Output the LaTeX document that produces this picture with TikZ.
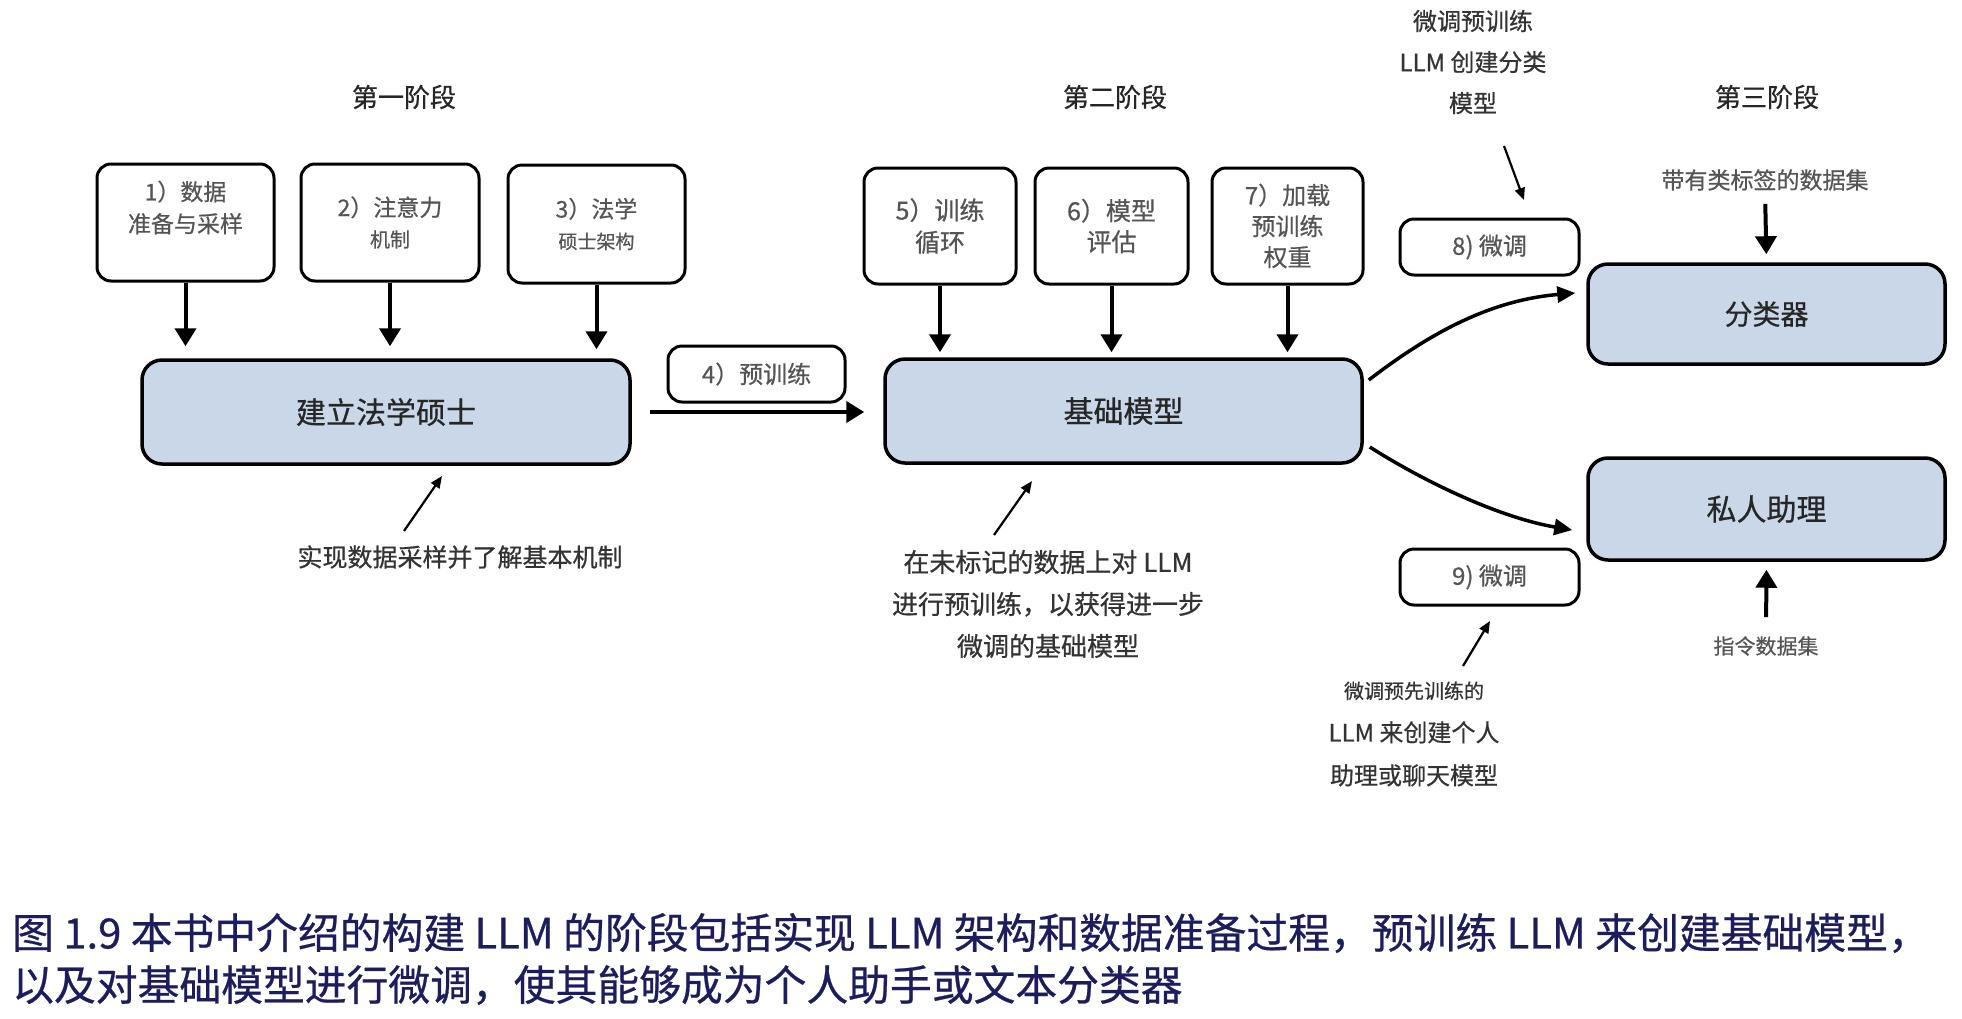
\documentclass[tikz,border=0pt]{standalone}
\usepackage{fontspec}
\setmainfont{Noto Sans CJK SC}[FakeBold=0.6]
\usepackage{tikz}
\usetikzlibrary{arrows.meta}
\definecolor{mainblue}{HTML}{C9D7E9}
\definecolor{boxtext}{HTML}{555555}
\definecolor{darktext}{HTML}{262626}
\definecolor{notetext}{HTML}{333333}
\definecolor{captionblue}{HTML}{1D1D5E}
\newcommand{\fsz}[2]{\fontsize{#1pt}{#2pt}\selectfont}

\begin{document}
\begin{tikzpicture}[x=1pt, y=-1pt,
			stepbox/.style={rectangle, rounded corners=14pt, draw=black, line width=3pt, fill=white, text=boxtext, align=center, inner sep=0pt, font=\fsz{23}{31}},
			mainbox/.style={rectangle, rounded corners=20pt, draw=black, line width=3.5pt, fill=mainblue, text=darktext, inner sep=0pt, font=\fsz{30}{36}},
			stage/.style={text=darktext, inner sep=0pt, font=\fsz{26}{30}},
			note/.style={text=notetext, align=center, inner sep=0pt},
			thickarrow/.style={line width=4pt, -{Triangle[length=18pt, width=21pt]}},
			curvearrow/.style={line width=3.5pt, -{Triangle[length=18pt, width=16pt]}},
			notearrow/.style={line width=2.2pt, -{Triangle[length=12pt, width=10pt]}},
			]
			\useasboundingbox (0,0) rectangle (1962,1018);

			%Stages
				\node[stage]		(stage1)		at (404,97)		{第一阶段};
				\node[stage]		(stage2)		at (1115,97)		{第二阶段};
				\node[stage]		(stage3)		at (1767,97)		{第三阶段};

			%Stage one
				\node[stepbox, minimum width=177pt, minimum height=117pt,
					label={[note, text=boxtext, font=\fsz{23}{32}, yshift=15pt]center:{1）数据\\准备与采样}}]
									(box1)		at (185.5,222.5)	{};
				\node[stepbox, minimum width=178pt, minimum height=117pt]
									(box2)		at (390,222.5)		{2）注意力\\{\fsz{20}{30}机制}};
				\node[stepbox, minimum width=177pt, minimum height=118pt]
									(box3)		at (596.5,224)		{3）法学\\{\fsz{19}{30}硕士架构}};
				\node[mainbox, minimum width=488pt, minimum height=104pt]
									(big1)		at (386,412)		{建立法学硕士};
				\node[note, font=\fsz{25}{30}]	(note1)		at (460,557)		{实现数据采样并了解基本机制};
				\coordinate						(note1-tail)	at (404,531);
				\coordinate						(note1-tip)	at (442,476);

			%Stage two
				\node[stepbox, minimum width=177pt, minimum height=56pt, font=\fsz{24}{30}]
									(box4)		at (756.5,374)		{4）预训练};
				\node[stepbox, minimum width=152pt, minimum height=116pt, font=\fsz{25}{32}]
									(box5)		at (940,226)		{5）训练\\循环};
				\node[stepbox, minimum width=153pt, minimum height=116pt, font=\fsz{25}{31}]
									(box6)		at (1111.5,226)	{6）模型\\评估};
				\node[stepbox, minimum width=151pt, minimum height=116pt, font=\fsz{24}{31}]
									(box7)		at (1287.5,226)	{7）加载\\预训练\\权重};
				\node[mainbox, minimum width=477pt, minimum height=104pt]
									(base)		at (1123.5,411)	{基础模型};
				\node[note, font=\fsz{26}{42}]	(note2)		at (1048,604)		{在未标记的数据上对 LLM\\进行预训练，以获得进一步\\微调的基础模型};
				\coordinate						(note2-tail)	at (994,535);
				\coordinate						(note2-tip)	at (1032,481);

			%Stage three
				\node[stepbox, minimum width=179pt, minimum height=56pt, font=\fsz{24}{30}]
									(box8)		at (1489.5,247)	{8) 微调};
				\node[stepbox, minimum width=179pt, minimum height=56pt, font=\fsz{24}{30}]
									(box9)		at (1489.5,577)	{9) 微调};
				\node[mainbox, minimum width=357pt, minimum height=100pt, font=\fsz{28}{34}]
									(cls)		at (1766.5,314)	{分类器};
				\node[mainbox, minimum width=357pt, minimum height=102pt]
									(asst)		at (1766.5,509)	{私人助理};
				\node[note, font=\fsz{24}{41}]	(note8)		at (1473,62)		{微调预训练\\LLM 创建分类\\模型};
				\node[note, font=\fsz{24}{43}]	(note9)		at (1414,734)		{{\fsz{20}{43}微调预先训练的}\\LLM 来创建个人\\助理或聊天模型};
				\node[note, text=boxtext, font=\fsz{23}{28}]	(clsdata)	at (1765,180)	{带有类标签的数据集};
				\node[note, text=boxtext, font=\fsz{21}{26}]	(instdata)	at (1766,646)	{指令数据集};
				\coordinate						(note8-tail)	at (1504,146);
				\coordinate						(note8-tip)	at (1524,200);
				\coordinate						(note9-tail)	at (1463,666);
				\coordinate						(note9-tip)	at (1490,621);

			%Caption
				\node[align=left, anchor=west, inner sep=0pt, text=captionblue, font=\fsz{41.8}{52}]
									(caption)	at (12,959)		{图 1.9 本书中介绍的构建 LLM 的阶段包括实现 LLM 架构和数据准备过程，预训练 LLM 来创建基础模型，\\以及对基础模型进行微调，使其能够成为个人助手或文本分类器};

			%Lines
				\draw[thickarrow, shorten >=12pt] (box1.south) -- (box1.south |- big1.north);
				\draw[thickarrow, shorten >=12pt] (box2.south) -- (box2.south |- big1.north);
				\draw[thickarrow, shorten >=9pt] (box3.south) -- (box3.south |- big1.north);
				\draw[thickarrow, shorten <=18pt, shorten >=19pt] (big1.east) -- (big1.east -| base.west);
				\draw[thickarrow, shorten >=5pt] (box5.south) -- (box5.south |- base.north);
				\draw[thickarrow, shorten >=5pt] (box6.south) -- (box6.south |- base.north);
				\draw[thickarrow, shorten >=5pt] (box7.south) -- (box7.south |- base.north);
				\draw[curvearrow] ([xshift=5pt, yshift=31pt]base.east) .. controls +(65pt,50pt) and +(-82pt,-7pt) .. ([xshift=-11pt, yshift=21pt]cls.west);
				\draw[curvearrow] ([xshift=6pt, yshift=-36pt]base.east) .. controls +(60pt,-38pt) and +(-70pt,12pt) .. ([xshift=-14pt, yshift=-21pt]asst.west);
				\draw[thickarrow, shorten <=13pt, shorten >=8pt] (clsdata.south) -- (cls.north);
				\draw[thickarrow, shorten <=19pt, shorten >=8pt] (instdata.north) -- (asst.south);
				\draw[notearrow] (note1-tail) -- (note1-tip);
				\draw[notearrow] (note2-tail) -- (note2-tip);
				\draw[notearrow] (note8-tail) -- (note8-tip);
				\draw[notearrow] (note9-tail) -- (note9-tip);
		\end{tikzpicture}
\end{document}
